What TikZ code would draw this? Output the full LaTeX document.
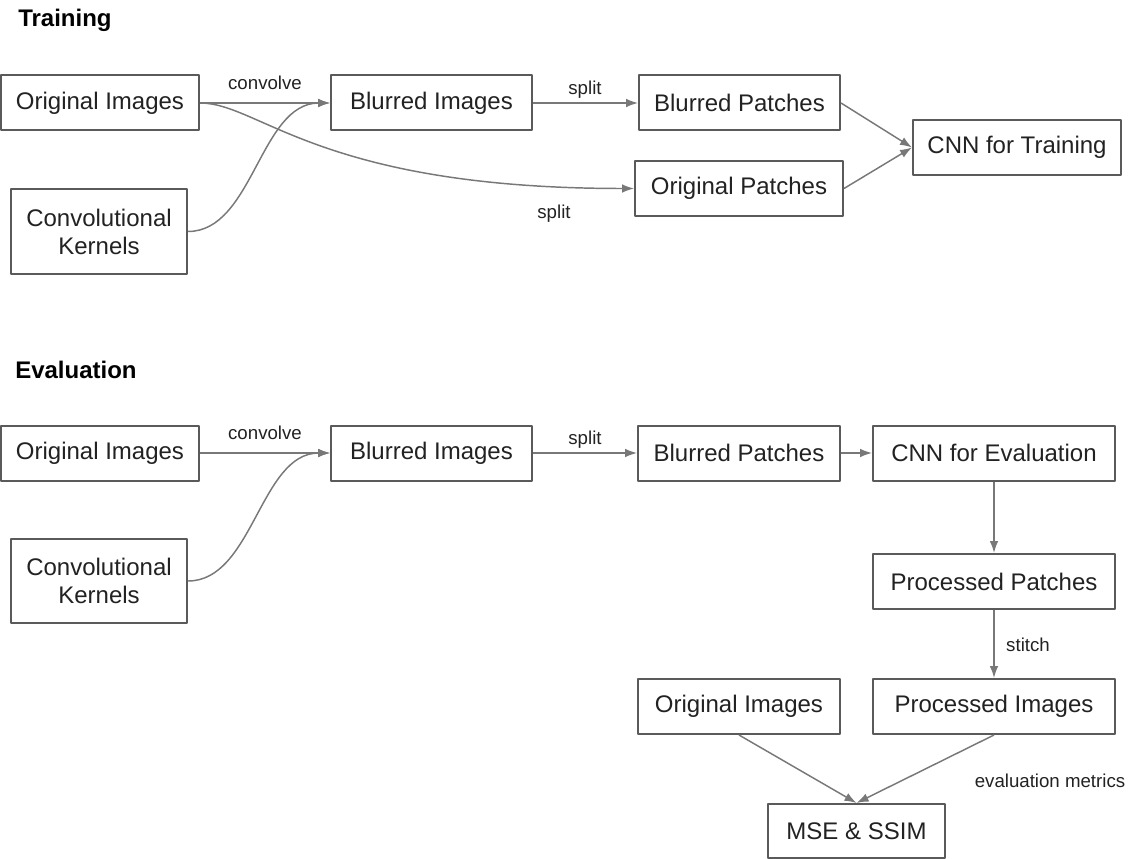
\documentclass[tikz,border=0pt]{standalone}
\usepackage{fontspec}
\setmainfont{Liberation Sans}
\usetikzlibrary{arrows.meta}
\definecolor{boxgray}{HTML}{5A5A5A}
\definecolor{linegray}{HTML}{787878}
\definecolor{txtgray}{HTML}{222222}
\begin{document}
\begin{tikzpicture}[x=0.75pt,y=-0.75pt,line join=round,>={Latex[length=9pt,width=6.5pt]},
	box/.style={draw=boxgray,line width=1.5pt,fill=white,text=txtgray,font=\fontsize{18}{21}\selectfont,align=center,minimum height=41.25pt,inner sep=0pt},
	lbl/.style={text=txtgray,font=\fontsize{14}{16}\selectfont,inner sep=0pt},
	ttl/.style={text=black,font=\fontsize{18}{21}\selectfont\bfseries,anchor=base west,inner sep=0pt},
	con/.style={draw=linegray,line width=1.1pt,->}]
	\useasboundingbox (0,0) rectangle (1135,859);
	\node[ttl] (ttlA) at (18,27) {Training};
	\node[box,minimum width=148.5pt] (origA) at (100,103) {Original Images};
	\node[box,minimum width=132pt,minimum height=63.75pt] (kernA) at (99,231.5) {Convolutional\\Kernels};
	\node[box,minimum width=150.75pt] (blurA) at (431.5,103) {Blurred Images};
	\node[box,minimum width=150.75pt] (bpatA) at (739.5,103) {Blurred Patches};
	\node[box,minimum width=156pt] (opatA) at (739,188.5) {Original Patches};
	\node[box,minimum width=156pt] (cnnA) at (1017,147.5) {CNN for Training};
	\node[lbl] (convA) at (265,83) {convolve};
	\node[lbl] (splitA) at (585,90) {split};
	\node[lbl] (splitO) at (554,214) {split};
	\draw[con] (origA.east) -- (blurA.west);
	\draw[con] (kernA.east) .. controls +(65,0) and +(-70,0) .. (blurA.west);
	\draw[con] (origA.east) .. controls +(60,0) and +(-315,0) .. (opatA.west);
	\draw[con] (blurA.east) -- (bpatA.west);
	\draw[con] (bpatA.east) -- (cnnA.west);
	\draw[con] (opatA.east) -- (cnnA.west);
	\node[ttl] (ttlB) at (15,378) {Evaluation};
	\node[box,minimum width=148.5pt] (origB) at (100,453) {Original Images};
	\node[box,minimum width=132pt,minimum height=63pt] (kernB) at (99,581) {Convolutional\\Kernels};
	\node[box,minimum width=150.75pt] (blurB) at (431.5,453) {Blurred Images};
	\node[box,minimum width=151.5pt] (bpatB) at (739,453) {Blurred Patches};
	\node[box,minimum width=181.5pt] (cnnB) at (994,453) {CNN for Evaluation};
	\node[box,minimum width=181.5pt] (ppatB) at (994,581.5) {Processed Patches};
	\node[box,minimum width=181.5pt] (pimgB) at (994,706.5) {Processed Images};
	\node[box,minimum width=151.5pt] (origC) at (739,706.5) {Original Images};
	\node[box,minimum width=132.75pt,minimum height=40.5pt] (mse) at (856.5,831) {MSE \& SSIM};
	\node[lbl] (convB) at (265,433) {convolve};
	\node[lbl] (splitB) at (585,440) {split};
	\node[lbl] (stitch) at (1028,645) {stitch};
	\node[lbl] (metric) at (1050,781) {evaluation metrics};
	\draw[con] (origB.east) -- (blurB.west);
	\draw[con] (kernB.east) .. controls +(65,0) and +(-70,0) .. (blurB.west);
	\draw[con] (blurB.east) -- (bpatB.west);
	\draw[con] (bpatB.east) -- (cnnB.west);
	\draw[con] (cnnB) -- (ppatB);
	\draw[con] (ppatB) -- (pimgB);
	\draw[con] (origC.south) -- (mse.north);
	\draw[con] (pimgB.south) -- (mse.north);
\end{tikzpicture}
\end{document}
